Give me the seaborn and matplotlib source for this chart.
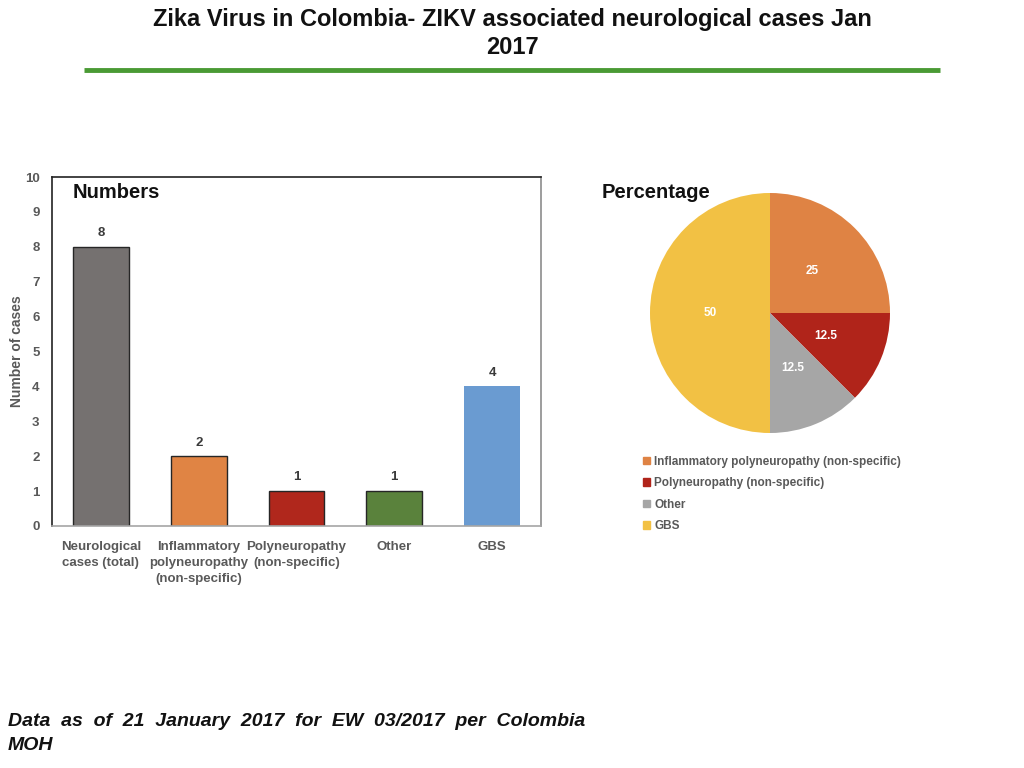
import matplotlib
matplotlib.use('Agg')
import matplotlib.pyplot as plt
import seaborn as sns
import pandas as pd

# Bar chart data
bar_labels = ['Neurological\ncases (total)', 'Inflammatory\npolyneuropathy\n(non-specific)',
              'Polyneuropathy\n(non-specific)', 'Other', 'GBS']
bar_values = [8, 2, 1, 1, 4]
bar_colors = ['#757170', '#E08444', '#B0271C', '#5A823C', '#6A9BD1']

# Pie chart data
pie_labels = ['Inflammatory polyneuropathy (non-specific)', 'Polyneuropathy (non-specific)',
              'Other', 'GBS']
pie_values = [25, 12.5, 12.5, 50]
pie_colors = ['#DF8344', '#B0241A', '#A6A6A6', '#F2C144']

sns.set_style('white')
plt.rcParams['font.family'] = ['Liberation Sans', 'DejaVu Sans']
narrow = ['Liberation Sans Narrow', 'Liberation Sans', 'DejaVu Sans']

fig = plt.figure(figsize=(10.24, 7.68), dpi=100)

# Title and green rule
fig.text(0.5, 0.989, 'Zika Virus in Colombia- ZIKV associated neurological cases Jan\n2017',
         ha='center', va='top', fontsize=17, fontweight='bold', linespacing=1.25, color='#111111')
fig.add_artist(plt.Line2D([84 / 1024, 940 / 1024], [1 - 70 / 768, 1 - 70 / 768],
                          color='#4A9A34', linewidth=3.5, solid_capstyle='butt'))

# Bar chart
df = pd.DataFrame({'cat': bar_labels, 'val': bar_values})
ax = fig.add_axes([52 / 1024, 1 - 526 / 768, 489 / 1024, 349 / 768])
sns.barplot(data=df, x='cat', y='val', hue='cat', palette=bar_colors, ax=ax,
            width=0.57, legend=False, saturation=1)
for i, p in enumerate(ax.patches):
    if i < 4:
        p.set_edgecolor('#262626')
        p.set_linewidth(1.0)
    else:
        p.set_linewidth(0)
    ax.text(p.get_x() + p.get_width() / 2, p.get_height() + 0.22, str(bar_values[i]),
            ha='center', va='bottom', fontsize=9.5, fontweight='bold', color='#3a3a3a',
            family=narrow)
ax.set_xlim(-0.5, 4.5)
ax.set_ylim(0, 10)
ax.set_yticks(range(0, 11))
ax.set_xlabel('')
ax.set_ylabel('Number of cases', fontsize=10, fontweight='bold', color='#595959')
ax.yaxis.set_label_coords(-0.058, 0.5)
ax.tick_params(axis='y', length=0, pad=9, labelsize=9.5, colors='#595959')
ax.tick_params(axis='x', length=0, pad=11, labelsize=9.5, colors='#595959')
for t in ax.get_xticklabels() + ax.get_yticklabels():
    t.set_family(narrow)
    t.set_fontweight('bold')
for t in ax.get_xticklabels():
    t.set_linespacing(1.45)
for side, col in [('left', '#222222'), ('top', '#222222'), ('right', '#8C8C8C'), ('bottom', '#A6A6A6')]:
    ax.spines[side].set_color(col)
    ax.spines[side].set_linewidth(1.2)
ax.text(0.043, 0.955, 'Numbers', transform=ax.transAxes, fontsize=14.5, fontweight='bold',
        va='center', ha='left', color='#111111')

# Pie chart
pax = fig.add_axes([650 / 1024, 1 - 433 / 768, 240 / 1024, 240 / 768])
wedges, texts, autotexts = pax.pie(pie_values, colors=pie_colors, startangle=90, counterclock=False,
                                   autopct=lambda v: f'{v:g}', pctdistance=0.5,
                                   wedgeprops=dict(linewidth=0),
                                   textprops=dict(color='white', fontsize=8.5, fontweight='bold'))
pax.set_xlim(-1, 1)
pax.set_ylim(-1, 1)
pax.set_aspect('equal')
fig.text(602 / 1024, 1 - 193 / 768, 'Percentage', fontsize=14.5, fontweight='bold', va='center',
         ha='left', color='#111111')

handles = [plt.Rectangle((0, 0), 1, 1, color=c) for c in pie_colors]
fig.legend(handles, pie_labels, loc='upper left', bbox_to_anchor=(632 / 1024, 1 - 445 / 768),
           frameon=False, handlelength=0.6, handleheight=0.6, handletextpad=0.4,
           labelspacing=0.8, labelcolor='#595959', prop=dict(weight='bold', size=8.5))

# Footnote
fig.text(8 / 1024, 1 - 721 / 768, 'Data  as  of  21  January  2017  for  EW  03/2017  per  Colombia',
         fontsize=14, fontweight='bold', style='italic', va='center', ha='left', color='#111111')
fig.text(8 / 1024, 1 - 746 / 768, 'MOH', fontsize=14, fontweight='bold', style='italic',
         va='center', ha='left', color='#111111')

fig.savefig('out.png', dpi=100)
